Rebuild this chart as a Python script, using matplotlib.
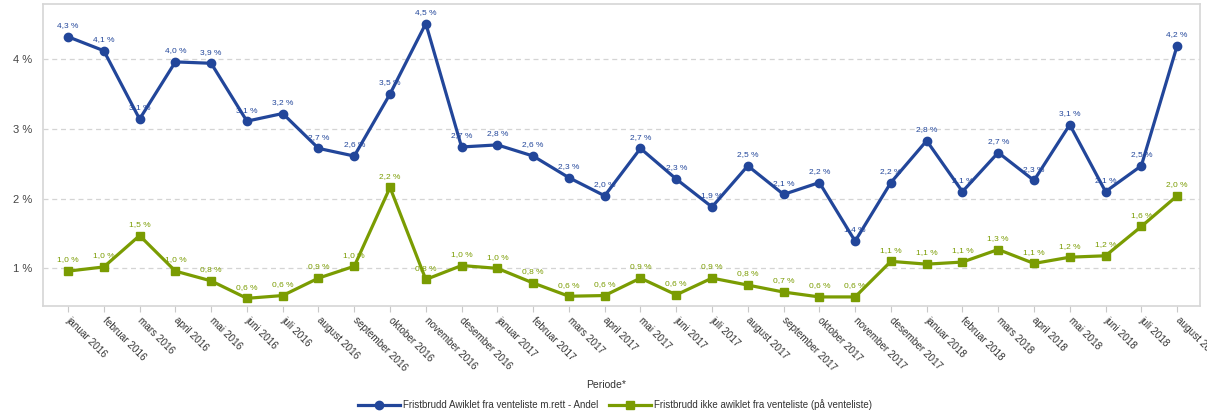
import matplotlib
matplotlib.use("Agg")
import matplotlib.pyplot as plt
from matplotlib.ticker import FixedLocator, FuncFormatter

plt.rcParams['font.family'] = ['Liberation Sans', 'DejaVu Sans']

months = ["januar", "februar", "mars", "april", "mai", "juni", "juli", "august",
          "september", "oktober", "november", "desember"]
periods = [f"{months[i % 12]} {2016 + i // 12}" for i in range(32)]

avviklet = [4.32, 4.12, 3.14, 3.96, 3.94, 3.11, 3.22, 2.72, 2.61, 3.50, 4.51, 2.74,
            2.77, 2.61, 2.30, 2.04, 2.72, 2.28, 1.88, 2.47, 2.06, 2.23, 1.39, 2.23,
            2.83, 2.10, 2.66, 2.26, 3.06, 2.10, 2.47, 4.19]
ikke_avviklet = [0.96, 1.02, 1.47, 0.96, 0.82, 0.57, 0.61, 0.86, 1.03, 2.16, 0.84, 1.04,
                 1.00, 0.79, 0.60, 0.61, 0.86, 0.62, 0.86, 0.76, 0.66, 0.59, 0.59, 1.10,
                 1.06, 1.09, 1.27, 1.07, 1.16, 1.18, 1.60, 2.04]

series_names = ["Fristbrudd Awiklet fra venteliste m.rett - Andel",
                "Fristbrudd ikke awiklet fra venteliste (på venteliste)"]
blue = "#22469a"
green = "#7a9c02"

fig = plt.figure(figsize=(12.07, 4.16), dpi=100)
ax = fig.add_axes([43 / 1207, 1 - 306 / 416, (1200 - 43) / 1207, (306 - 4) / 416])

x = list(range(len(periods)))
ax.plot(x, avviklet, color=blue, lw=2.3, marker="o", ms=6, zorder=4,
        label=series_names[0])
ax.plot(x, ikke_avviklet, color=green, lw=2.3, marker="s", ms=6, zorder=4,
        label=series_names[1])

def pct(v):
    return f"{v:.1f}".replace(".", ",") + " %"

for xi, v in zip(x, avviklet):
    ax.annotate(pct(v), (xi, v), xytext=(0, 8), textcoords="offset points",
                ha="center", va="center", fontsize=6, color=blue, zorder=2)
for xi, v in zip(x, ikke_avviklet):
    ax.annotate(pct(v), (xi, v), xytext=(0, 8), textcoords="offset points",
                ha="center", va="center", fontsize=6, color=green, zorder=2)

ax.set_xlim(-0.70, 31.64)
ax.set_ylim(0.46, 4.79)

ax.yaxis.set_major_locator(FixedLocator([1, 2, 3, 4]))
ax.yaxis.set_major_formatter(FuncFormatter(lambda v, p: f"{v:.0f} %"))
ax.grid(axis="y", color="#d4d4d4", linestyle=(0, (4, 3)), lw=0.9)
ax.set_axisbelow(True)

ax.set_xticks(x)
ax.set_xticklabels(periods, rotation=-45, ha="left", va="center",
                   rotation_mode="anchor", fontsize=7.2, color="#333333")
ax.tick_params(axis="x", length=4, color="#c8c8c8", pad=5)
ax.tick_params(axis="y", length=0, pad=8, labelsize=8, labelcolor="#444444")
for lbl in ax.get_xticklabels():
    lbl.set_x(lbl.get_position()[0])

for side in ["left", "bottom", "top", "right"]:
    ax.spines[side].set_color("#d6d6d6")
    ax.spines[side].set_linewidth(1.2)

fig.text(606 / 1207, 1 - 385 / 416, "Periode*", ha="center", va="center",
         fontsize=7.5, color="#333333")

fig.legend(loc="center", bbox_to_anchor=(615 / 1207, 1 - 405 / 416), ncol=2,
           frameon=False, fontsize=7, handlelength=4.3, columnspacing=1.2,
           handletextpad=0.3, labelcolor="#333333")

fig.savefig("out.png", dpi=100)
